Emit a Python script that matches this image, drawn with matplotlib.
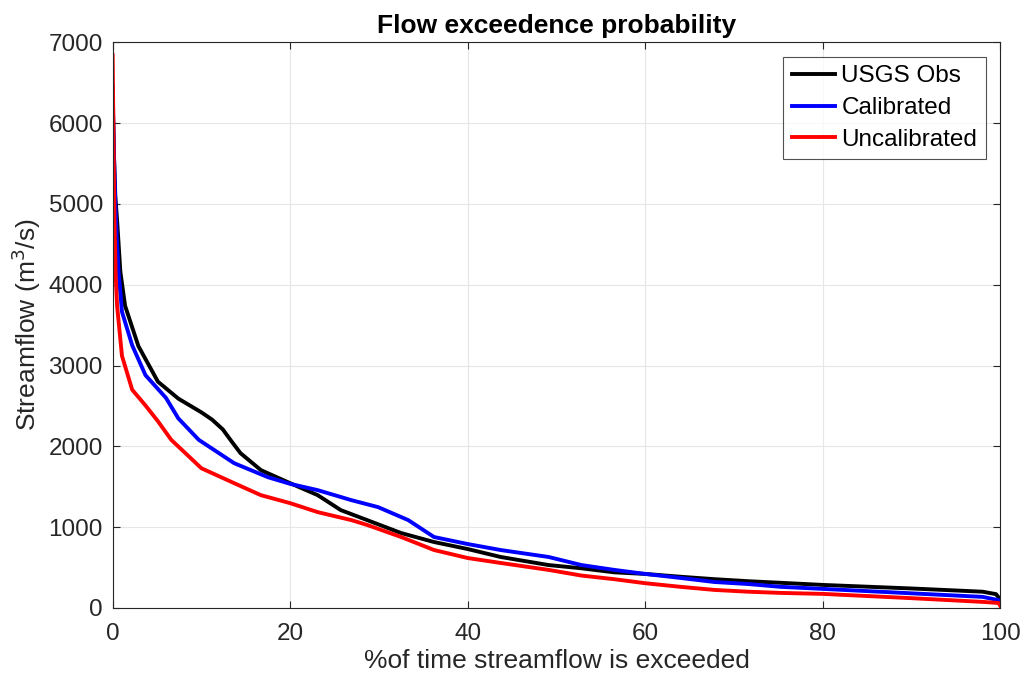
import numpy as np
import matplotlib
matplotlib.use("Agg")
from matplotlib import rcParams

rcParams['font.family'] = 'sans-serif'
rcParams['font.sans-serif'] = ['Liberation Sans', 'DejaVu Sans']
from matplotlib import pyplot as plt

# flow duration curves (x: % exceeded, y: m3/s)
obs_x = [0, 0.15, 0.3, 0.5, 0.87, 1.4, 2.9, 5.1, 7.4, 10.0, 11.2, 12.4, 13.4, 14.4, 16.7, 20.0, 23.1, 25.7,
         28.7, 32.5, 36.2, 40.0, 43.7, 49.1, 52.8, 56.5, 60.0, 64.0, 67.8, 71.6, 75.3, 80.0,
         90.0, 98.0, 99.5, 100.0]
obs_y = [6300, 5600, 5100, 4800, 4160, 3740, 3240, 2800, 2590, 2420, 2330, 2210, 2060, 1915, 1705, 1543, 1395, 1210,
         1085, 926, 815, 728, 630, 530, 490, 440, 420, 385, 355, 330, 310, 284,
         240, 200, 170, 100]

cal_x = [0, 0.15, 0.3, 0.5, 0.67, 1.05, 2.2, 3.7, 6.0, 7.4, 9.7, 13.7, 17.5, 20.0, 23.1, 26.9,
         29.9, 33.3, 36.2, 40.0, 43.7, 49.1, 52.8, 56.5, 60.0, 64.0, 67.8, 71.6, 75.3, 80.0,
         90.0, 98.0, 100.0]
cal_y = [6450, 5600, 5000, 4500, 4160, 3665, 3250, 2880, 2600, 2345, 2080, 1790, 1617, 1535, 1457, 1333,
         1247, 1086, 877, 790, 716, 630, 530, 470, 420, 370, 320, 295, 260, 235,
         180, 136, 90]

unc_x = [0, 0.1, 0.2, 0.35, 0.5, 1.05, 2.2, 3.7, 5.1, 6.6, 10.0, 13.7, 16.7, 20.0, 23.1, 26.9,
         28.7, 32.5, 36.2, 40.0, 43.7, 49.1, 52.8, 56.5, 60.0, 64.0, 67.8, 71.6, 75.3, 80.0,
         90.0, 98.0, 99.8, 100.0]
unc_y = [6840, 5800, 4800, 4100, 3740, 3120, 2700, 2505, 2310, 2080, 1728, 1543, 1395, 1296, 1185, 1086,
         1025, 877, 716, 617, 556, 470, 400, 355, 305, 260, 222, 200, 185, 173,
         120, 74, 60, 20]

series = [(obs_x, obs_y, 'k', 'USGS Obs'),
          (cal_x, cal_y, 'b', 'Calibrated'),
          (unc_x, unc_y, 'r', 'Uncalibrated')]


def main():
    fig = plt.figure(figsize=(10.24, 6.83), dpi=100)
    ax = fig.add_axes([0.110, 0.110, 0.867, 0.828])
    for xs, ys, c, name in series:
        ax.plot(xs, ys, color=c, lw=2.8, label=name)

    ax.set_xlim(0, 100)
    ax.set_ylim(0, 7000)
    ax.set_xticks(np.arange(0, 101, 20))
    ax.set_yticks(np.arange(0, 7001, 1000))
    ax.grid(color='#e6e6e6', lw=0.8)
    ax.set_axisbelow(True)
    ax.tick_params(direction='in', top=True, right=True, length=5, width=0.8,
                   colors='#262626', labelsize=17.5)
    ax.tick_params(axis='x', pad=11)
    ax.tick_params(axis='y', pad=7)
    for s in ax.spines.values():
        s.set_color('#262626')
        s.set_linewidth(0.8)

    ax.set_title("Flow exceedence probability", fontsize=19, fontweight='bold', pad=7)
    ax.set_xlabel("%of time streamflow is exceeded", fontsize=19, color='#262626', labelpad=3)
    ax.set_ylabel("Streamflow (m$^3$/s)", fontsize=19, color='#262626', labelpad=4)

    leg = ax.legend(loc='upper right', fontsize=17.5, frameon=True, fancybox=False,
                    edgecolor='#262626', handlelength=1.8, handletextpad=0.25,
                    borderaxespad=0.6, borderpad=0.35, labelspacing=0.4)
    leg.get_frame().set_linewidth(0.8)

    plt.savefig("out.png", dpi=100)


if __name__ == "__main__":
    main()
